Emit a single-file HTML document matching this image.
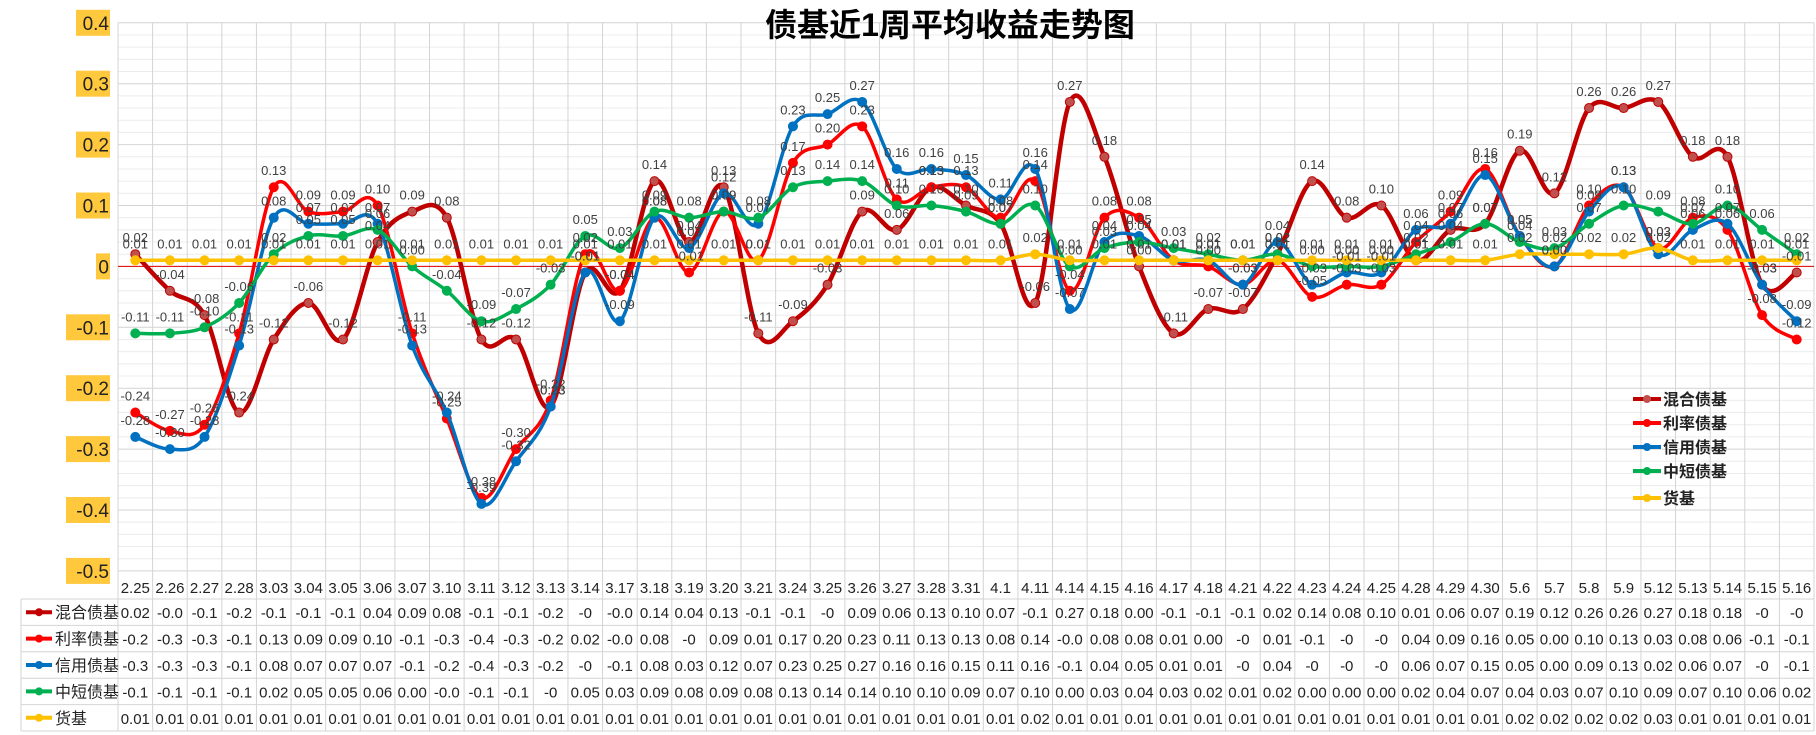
<!DOCTYPE html>
<html><head><meta charset="utf-8">
<style>
html,body{margin:0;padding:0;background:#fff;}
svg{display:block;font-family:"Liberation Sans","Noto Sans CJK SC",sans-serif;}
</style></head>
<body>
<svg id="chart" width="1816" height="735" viewBox="0 0 1816 735">
<g id="grid"></g>
<g id="yaxis"></g>
<g id="series"></g>
<g id="labels"></g>
<g id="table"></g>
<text x="950" y="36" text-anchor="middle" font-size="32" font-weight="bold" fill="#000">债基近1周平均收益走势图</text>
<g id="legend"></g>
</svg>
<script>
const categories=["2.25","2.26","2.27","2.28","3.03","3.04","3.05","3.06","3.07","3.10","3.11","3.12","3.13","3.14","3.17","3.18","3.19","3.20","3.21","3.24","3.25","3.26","3.27","3.28","3.31","4.1","4.11","4.14","4.15","4.16","4.17","4.18","4.21","4.22","4.23","4.24","4.25","4.28","4.29","4.30","5.6","5.7","5.8","5.9","5.12","5.13","5.14","5.15","5.16"];
const hybrid=[0.02,-0.04,-0.08,-0.24,-0.12,-0.06,-0.12,0.04,0.09,0.08,-0.12,-0.12,-0.23,-0.01,-0.04,0.14,0.04,0.13,-0.11,-0.09,-0.03,0.09,0.06,0.13,0.10,0.07,-0.06,0.27,0.18,0.00,-0.11,-0.07,-0.07,0.02,0.14,0.08,0.10,0.01,0.06,0.07,0.19,0.12,0.26,0.26,0.27,0.18,0.18,-0.03,-0.01];
const rate=[-0.24,-0.27,-0.26,-0.11,0.13,0.09,0.09,0.10,-0.11,-0.25,-0.38,-0.30,-0.22,0.02,-0.04,0.08,-0.01,0.09,0.01,0.17,0.20,0.23,0.11,0.13,0.13,0.08,0.14,-0.04,0.08,0.08,0.01,0.00,-0.03,0.01,-0.05,-0.03,-0.03,0.04,0.09,0.16,0.05,0.00,0.10,0.13,0.03,0.08,0.06,-0.08,-0.12];
const credit=[-0.28,-0.30,-0.28,-0.13,0.08,0.07,0.07,0.07,-0.13,-0.24,-0.39,-0.32,-0.23,-0.01,-0.09,0.08,0.03,0.12,0.07,0.23,0.25,0.27,0.16,0.16,0.15,0.11,0.16,-0.07,0.04,0.05,0.01,0.01,-0.03,0.04,-0.03,-0.01,-0.01,0.06,0.07,0.15,0.05,0.00,0.09,0.13,0.02,0.06,0.07,-0.03,-0.09];
const shortTerm=[-0.11,-0.11,-0.10,-0.06,0.02,0.05,0.05,0.06,0.00,-0.04,-0.09,-0.07,-0.03,0.05,0.03,0.09,0.08,0.09,0.08,0.13,0.14,0.14,0.10,0.10,0.09,0.07,0.10,0.00,0.03,0.04,0.03,0.02,0.01,0.02,0.00,0.00,0.00,0.02,0.04,0.07,0.04,0.03,0.07,0.10,0.09,0.07,0.10,0.06,0.02];
const money=[0.01,0.01,0.01,0.01,0.01,0.01,0.01,0.01,0.01,0.01,0.01,0.01,0.01,0.01,0.01,0.01,0.01,0.01,0.01,0.01,0.01,0.01,0.01,0.01,0.01,0.01,0.02,0.01,0.01,0.01,0.01,0.01,0.01,0.01,0.01,0.01,0.01,0.01,0.01,0.01,0.02,0.02,0.02,0.02,0.03,0.01,0.01,0.01,0.01];
const seriesNames=["混合债基","利率债基","信用债基","中短债基","货基"];
const yTicks=[0.4,0.3,0.2,0.1,0,-0.1,-0.2,-0.3,-0.4,-0.5];
const yTickLabels=["0.4","0.3","0.2","0.1","0","-0.1","-0.2","-0.3","-0.4","-0.5"];

const NS="http://www.w3.org/2000/svg";
const L=118,R=1814,N=categories.length,CW=(R-L)/N;
const x=i=>L+CW*(i+0.5);
const y=v=>266.4-v*609;
function mk(tag,attrs,parent,text){const e=document.createElementNS(NS,tag);for(const k in attrs)e.setAttribute(k,attrs[k]);if(text!==undefined)e.textContent=text;parent.appendChild(e);return e;}
const grid=document.getElementById('grid');
for(let k=0;k<=45;k++){const v=0.4-k*0.02;const ln=mk('line',{x1:L,x2:R,y1:y(v),y2:y(v),stroke:(k%5===0)?'#d4d4d4':'#ececec','stroke-width':1},grid);

}
for(let i=0;i<=N;i++){const ln=mk('line',{x1:L+CW*i,x2:L+CW*i,y1:y(0.4),y2:731,stroke:'#d4d4d4','stroke-width':1},grid);

}
const zl=mk('line',{x1:L,x2:R,y1:y(0),y2:y(0),stroke:'#e00000','stroke-width':1},grid);


const ya=document.getElementById('yaxis');
yTicks.forEach((v,i)=>{const t=yTickLabels[i];const w=t.length*10+4;
const r=mk('rect',{x:110-w,y:y(v)-13,width:w,height:26,fill:'#ffc83d'},ya);


const tx=mk('text',{x:109,y:y(v)+7,'text-anchor':'end','font-size':19,fill:'#222'},ya,t);

});
const all=[hybrid,rate,credit,shortTerm,money];
const colors=['#c00000','#ff0000','#0070c0','#00b050','#ffc000'];
const widths=[4.5,3.5,3.5,3.5,3.5];
const sg=document.getElementById('series'),lg=document.getElementById('labels');
function smooth(pts){let d=`M${pts[0][0]},${pts[0][1]}`;for(let i=0;i<pts.length-1;i++){const p0=pts[i-1]||pts[i],p1=pts[i],p2=pts[i+1],p3=pts[i+2]||p2;const t=0.5/3;
d+=` C${p1[0]+(p2[0]-p0[0])*t},${p1[1]+(p2[1]-p0[1])*t} ${p2[0]-(p3[0]-p1[0])*t},${p2[1]-(p3[1]-p1[1])*t} ${p2[0]},${p2[1]}`;}return d;}
all.forEach((data,s)=>{const pts=data.map((v,i)=>[x(i),y(v)]);
const p=mk('path',{d:smooth(pts),fill:'none',stroke:colors[s],'stroke-width':widths[s]},sg);


data.forEach((v,i)=>{const c=mk('circle',{cx:x(i),cy:y(v),r:4.5,fill:s===0?'#c0504d':colors[s],stroke:colors[s],'stroke-width':1},sg);


const t=mk('text',{x:x(i),y:y(v)-12,'text-anchor':'middle','font-size':13,fill:'#404040'},lg,v.toFixed(2));

});});
const tb=document.getElementById('table');
categories.forEach((c,i)=>{const t=mk('text',{x:x(i),y:593,'text-anchor':'middle','font-size':15,fill:'#222'},tb,c);

});
const rowTop=599,RH=26.4;
for(let r=0;r<=5;r++){const ln=mk('line',{x1:21,x2:R,y1:rowTop+r*RH,y2:rowTop+r*RH,stroke:'#d4d4d4'},tb);

}
const lv=mk('line',{x1:21,x2:21,y1:rowTop,y2:rowTop+5*RH,stroke:'#d4d4d4'},tb);


function fmt(v){if(v>=0)return v.toFixed(2);let s=v.toFixed(1);if(s==='-0.0'&&v>-0.035)s='-0';return s;}
all.forEach((data,s)=>{const cy=rowTop+RH*s+RH/2;
const k=mk('line',{x1:26,x2:52,y1:cy,y2:cy,stroke:colors[s],'stroke-width':4},tb);


const kc=mk('circle',{cx:39,cy:cy,r:4,fill:colors[s]},tb);


const nm=mk('text',{x:55,y:cy+6,'font-size':16,fill:'#222'},tb,seriesNames[s]);


data.forEach((v,i)=>{const t=mk('text',{x:x(i),y:cy+6,'text-anchor':'middle','font-size':15,fill:'#222'},tb,fmt(v));

});});
const lgd=document.getElementById('legend');
seriesNames.forEach((n,s)=>{const cy=[399,423,447,471,498][s];
const l=mk('line',{x1:1633,x2:1661,y1:cy,y2:cy,stroke:colors[s],'stroke-width':4},lgd);


const c=mk('circle',{cx:1647,cy:cy,r:4,fill:s===0?'#c0504d':colors[s]},lgd);


const t=mk('text',{x:1663,y:cy+6,'font-size':16,'font-weight':'bold',fill:'#222'},lgd,n);

});
</script>
</body></html>
